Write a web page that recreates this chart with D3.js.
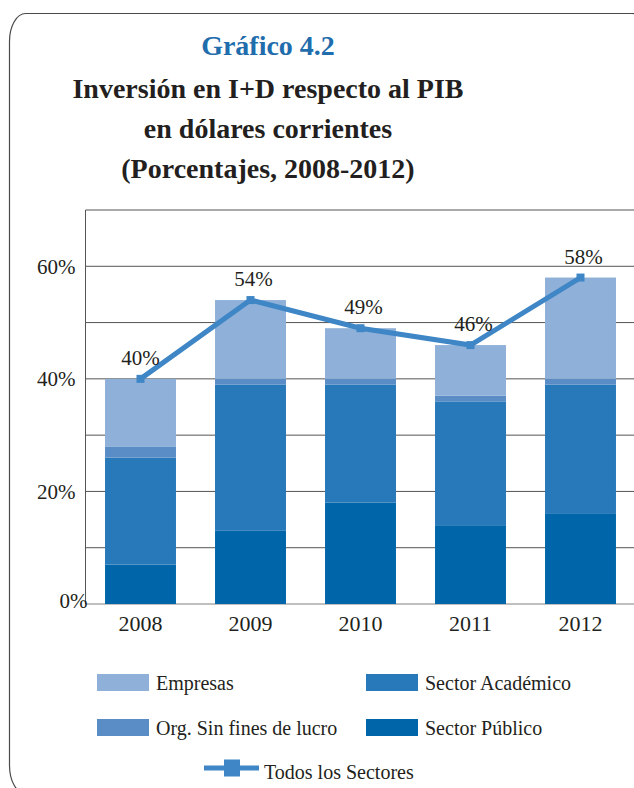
<!DOCTYPE html>
<html lang="es">
<head>
<meta charset="utf-8">
<script src="https://cdn.jsdelivr.net/npm/d3@7"></script>
<style>
  html, body { margin: 0; padding: 0; background: #fff; }
  svg { display: block; font-family: "Liberation Serif", "DejaVu Serif", serif; }
</style>
</head>
<body>
<svg id="chart" width="634" height="788"></svg>
<script>
// Inversión en I+D respecto al PIB, por sector (porcentajes)
const years = ["2008", "2009", "2010", "2011", "2012"];
const publico = [7, 13, 18, 14, 16];
const academico = [19, 26, 21, 22, 23];
const sinFines = [2, 1, 1, 1, 1];
const empresas = [12, 14, 9, 9, 18];
const todos = [40, 54, 49, 46, 58];
const yTicks = [0, 10, 20, 30, 40, 50, 60, 70];
const yLabelTicks = [0, 20, 40, 60];

const seriesNames = ["Sector Público", "Sector Académico", "Org. Sin fines de lucro", "Empresas"];
const seriesColors = ["#0066a9", "#2779b9", "#5a8dc5", "#8fb0d8"];
const lineColor = "#3e86c6";

const svg = d3.select("#chart");

// rounded frame around the figure
const L = 9.5, T = 13.5, R = 648, B = 793.5, rx = 16, ry = 28;
svg.append("path")
  .attr("d", `M${L},${T + ry} A${rx},${ry} 0 0 1 ${L + rx},${T} H${R - rx} A${rx},${ry} 0 0 1 ${R},${T + ry} V${B - ry} A${rx},${ry} 0 0 1 ${R - rx},${B} H${L + rx} A${rx},${ry} 0 0 1 ${L},${B - ry} Z`)
  .attr("fill", "none").attr("stroke", "#4a4a4a").attr("stroke-width", 1.2);

// titles
const titles = [
  { text: "Gráfico 4.2", color: "#1f6dac", y: 55 },
  { text: "Inversión en I+D respecto al PIB", color: "#231f20", y: 98 },
  { text: "en dólares corrientes", color: "#231f20", y: 138 },
  { text: "(Porcentajes, 2008-2012)", color: "#231f20", y: 178 }
];
svg.selectAll("text.title").data(titles).join("text")
  .attr("class", "title")
  .attr("x", 268).attr("y", d => d.y)
  .attr("text-anchor", "middle")
  .attr("font-size", 28).attr("font-weight", "bold")
  .attr("fill", d => d.color)
  .text(d => d.text);

// plot area
const plot = { left: 85.5, top: 210, bottom: 604, right: 635.5 };
const x = d3.scaleBand().domain(years).range([plot.left, plot.right]).paddingInner(0.355).paddingOuter(0.1775);
const y = d3.scaleLinear().domain([0, 70]).range([plot.bottom, plot.top]);

// gridlines
svg.append("g").selectAll("line").data(yTicks).join("line")
  .attr("x1", plot.left).attr("x2", 634)
  .attr("y1", d => y(d)).attr("y2", d => y(d))
  .attr("stroke", d => d === 0 ? "#808080" : "#555").attr("stroke-width", 1);

// vertical axis line
svg.append("line")
  .attr("x1", plot.left).attr("x2", plot.left)
  .attr("y1", plot.top).attr("y2", plot.bottom)
  .attr("stroke", "#555");

// stacked bars
const rows = years.map((yr, i) => ({
  year: yr,
  "Sector Público": publico[i],
  "Sector Académico": academico[i],
  "Org. Sin fines de lucro": sinFines[i],
  "Empresas": empresas[i]
}));
const stacked = d3.stack().keys(seriesNames)(rows);
svg.append("g").selectAll("g").data(stacked).join("g")
  .attr("fill", (d, i) => seriesColors[i])
  .selectAll("rect").data(d => d).join("rect")
  .attr("x", d => x(d.data.year))
  .attr("width", x.bandwidth())
  .attr("y", d => y(d[1]))
  .attr("height", d => y(d[0]) - y(d[1]));

// y tick labels
const yAxis = svg.append("g").attr("transform", `translate(${plot.left},0)`)
  .call(d3.axisLeft(y).tickValues(yLabelTicks).tickSize(0).tickPadding(10).tickFormat(d => d + "%"));
yAxis.select(".domain").remove();
yAxis.selectAll("text")
  .attr("font-family", "Liberation Serif, serif")
  .attr("font-size", 21).attr("fill", "#231f20")
  .attr("transform", d => d === 0 ? "translate(12,-3)" : null);

// x tick labels
const xAxis = svg.append("g").attr("transform", `translate(0,${plot.bottom})`)
  .call(d3.axisBottom(x).tickSize(0).tickPadding(11));
xAxis.select(".domain").remove();
xAxis.selectAll("text")
  .attr("font-family", "Liberation Serif, serif")
  .attr("font-size", 22).attr("fill", "#231f20");

// total line with square markers
const cx = d => x(d) + x.bandwidth() / 2;
const line = d3.line().x((d, i) => cx(years[i])).y(d => y(d));
svg.append("path").datum(todos)
  .attr("d", line).attr("fill", "none")
  .attr("stroke", lineColor).attr("stroke-width", 5);
svg.append("g").selectAll("rect").data(todos).join("rect")
  .attr("x", (d, i) => cx(years[i]) - 4).attr("y", d => y(d) - 4)
  .attr("width", 8).attr("height", 8).attr("fill", lineColor);

// value labels
svg.append("g").selectAll("text").data(todos).join("text")
  .attr("x", (d, i) => cx(years[i]) + (i === 0 ? 0 : 3))
  .attr("y", d => y(d) - 14)
  .attr("text-anchor", "middle")
  .attr("font-size", 21).attr("fill", "#231f20")
  .text(d => d + "%");

// legend
const legendItems = [
  { name: "Empresas", color: seriesColors[3], x: 97, y: 674 },
  { name: "Sector Académico", color: seriesColors[1], x: 366, y: 674 },
  { name: "Org. Sin fines de lucro", color: seriesColors[2], x: 97, y: 719 },
  { name: "Sector Público", color: seriesColors[0], x: 366, y: 719 }
];
const lg = svg.append("g").selectAll("g").data(legendItems).join("g")
  .attr("transform", d => `translate(${d.x},${d.y})`);
lg.append("rect").attr("width", 52).attr("height", 17).attr("fill", d => d.color);
lg.append("text").attr("x", 59).attr("y", 16)
  .attr("font-size", 20).attr("fill", "#231f20")
  .text(d => d.name);

const ll = svg.append("g").attr("transform", "translate(204,768)");
ll.append("line").attr("x1", 0).attr("x2", 55).attr("y1", 0).attr("y2", 0)
  .attr("stroke", lineColor).attr("stroke-width", 5);
ll.append("rect").attr("x", 20).attr("y", -8.5).attr("width", 16).attr("height", 17).attr("fill", lineColor);
ll.append("text").attr("x", 60).attr("y", 11)
  .attr("font-size", 20).attr("fill", "#231f20")
  .text("Todos los Sectores");
</script>
</body>
</html>
